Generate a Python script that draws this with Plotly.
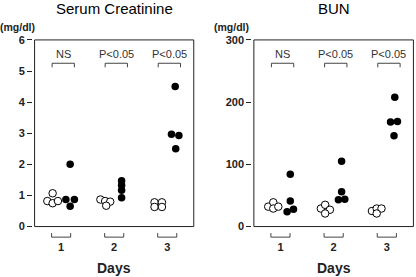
import plotly.graph_objects as go

# ---------------- data ----------------
days = [1, 2, 3]
day_labels = ["1", "2", "3"]
p_labels = ["NS", "P<0.05", "P<0.05"]

crea_control = [[0.82, 1.07, 0.75, 0.82], [0.87, 0.82, 0.80, 0.67], [0.78, 0.78, 0.63, 0.63]]
crea_treated = [[2.00, 0.87, 0.87, 0.65], [1.47, 1.33, 1.17, 0.93], [4.50, 2.97, 2.93, 2.50]]
bun_control = [[32, 39, 29, 32], [29, 35, 27, 21], [25, 29, 29, 21]]
bun_treated = [[84, 41, 24, 28], [105, 56, 43, 44], [208, 168, 169, 146]]

crea_ticks = [0, 1, 2, 3, 4, 5, 6]
bun_ticks = [0, 100, 200, 300]

# ---------------- layout helpers (positions only) ----------------
crea_ctrl_dx = [[-0.26, -0.16, -0.16, -0.06], [-0.26, -0.17, -0.075, -0.15], [-0.24, -0.10, -0.24, -0.10]]
crea_trt_dx = [[0.17, 0.09, 0.25, 0.17], [0.14, 0.14, 0.14, 0.14], [0.15, 0.08, 0.22, 0.16]]
bun_ctrl_dx = [[-0.23, -0.135, -0.135, -0.04], [-0.24, -0.16, -0.07, -0.16], [-0.28, -0.19, -0.10, -0.19]]
bun_trt_dx = [[0.185, 0.185, 0.125, 0.245], [0.15, 0.15, 0.09, 0.21], [0.15, 0.07, 0.20, 0.135]]

FONT = "Arial, Liberation Sans, sans-serif"
DARK = "#222222"
GRAY = "#444444"

fig = go.Figure()


def add_points(vals, dxs, xa, ya, filled):
    xs, ys = [], []
    for d, vv, dd in zip(days, vals, dxs):
        for v, o in zip(vv, dd):
            xs.append(d + o)
            ys.append(v)
    fig.add_trace(go.Scatter(
        x=xs, y=ys, mode="markers", xaxis=xa, yaxis=ya, showlegend=False,
        cliponaxis=False,
        marker=dict(size=7.5, color="black" if filled else "white",
                    line=dict(color="black", width=1 if not filled else 0))))


add_points(crea_control, crea_ctrl_dx, "x", "y", False)
add_points(crea_treated, crea_trt_dx, "x", "y", True)
add_points(bun_control, bun_ctrl_dx, "x2", "y2", False)
add_points(bun_treated, bun_trt_dx, "x2", "y2", True)

panels = [
    dict(xr="x", yr="y", ymax=6, u=6 / 6, title="Serum Creatinine", unit_shift=3.5),
    dict(xr="x2", yr="y2", ymax=300, u=300 / 6, title="BUN", unit_shift=-1),
]

shapes = []
annotations = []
for p in panels:
    u = p["u"]
    # frame
    shapes.append(dict(type="rect", xref=p["xr"], yref=p["yr"], x0=0.5, x1=3.5, y0=0, y1=p["ymax"],
                       line=dict(color=DARK, width=1), layer="above"))
    for d, lab in zip(days, p_labels):
        # top bracket
        xc = d + 0.04
        shapes.append(dict(type="path", xref=p["xr"], yref=p["yr"],
                           path=f"M {xc-0.21},{5.12*u} L {xc-0.21},{5.25*u} L {xc+0.21},{5.25*u} L {xc+0.21},{5.12*u}",
                           line=dict(color=GRAY, width=1)))
        annotations.append(dict(xref=p["xr"], yref=p["yr"], x=xc, y=5.54 * u, text=lab, showarrow=False,
                                font=dict(family=FONT, size=11, color="#333333")))
        # bottom bracket
        shapes.append(dict(type="path", xref=p["xr"], yref=p["yr"],
                           path=f"M {d-0.18},{-0.21*u} L {d-0.18},{-0.34*u} L {d+0.18},{-0.34*u} L {d+0.18},{-0.21*u}",
                           line=dict(color=GRAY, width=1)))
    annotations.append(dict(xref=p["xr"] + " domain", yref=p["yr"] + " domain", x=0.5, y=1, yshift=31,
                            text=p["title"], showarrow=False, yanchor="middle",
                            font=dict(family=FONT, size=15, color="black")))
    annotations.append(dict(xref=p["xr"] + " domain", yref=p["yr"] + " domain", x=0, y=1,
                            xshift=p["unit_shift"], yshift=12,
                            xanchor="right", yanchor="middle", text="<b>(mg/dl)</b>", showarrow=False,
                            font=dict(family=FONT, size=10.5, color=DARK)))
    annotations.append(dict(xref=p["xr"] + " domain", yref=p["yr"] + " domain", x=0.5, y=0, yshift=-28.5,
                            yanchor="middle", text="<b>Days</b>", showarrow=False,
                            font=dict(family=FONT, size=14, color=DARK)))

xcommon = dict(range=[0.47, 3.53], showgrid=False, zeroline=False, showline=False, ticks="",
               tickmode="array", tickvals=days, ticktext=[f"<b>{t}</b>" for t in day_labels],
               tickfont=dict(family=FONT, size=11, color=DARK), fixedrange=True)
ycommon = dict(showgrid=False, zeroline=False, showline=False, ticks="outside", ticklen=5,
               tickcolor=DARK, tickwidth=1, tickfont=dict(family=FONT, size=11, color=DARK), fixedrange=True)

fig.update_layout(
    width=416, height=277,
    margin=dict(l=33, r=1, t=39, b=38),
    paper_bgcolor="white", plot_bgcolor="white",
    xaxis=dict(domain=[0, 0.425], anchor="y", **xcommon),
    xaxis2=dict(domain=[0.574, 1], anchor="y2", **xcommon),
    yaxis=dict(domain=[0, 1], anchor="x", range=[-0.4, 6.03], tickvals=crea_ticks,
               ticktext=[f"<b>{t}</b>" for t in crea_ticks], **ycommon),
    yaxis2=dict(domain=[0, 1], anchor="x2", range=[-20, 301.5], tickvals=bun_ticks,
                ticktext=[f"<b>{t}</b>" for t in bun_ticks], **ycommon),
    shapes=shapes, annotations=annotations,
)

fig.write_html("out.html", config={"displayModeBar": False},
               post_script="document.body.style.margin='0';document.body.style.overflow='hidden';")
